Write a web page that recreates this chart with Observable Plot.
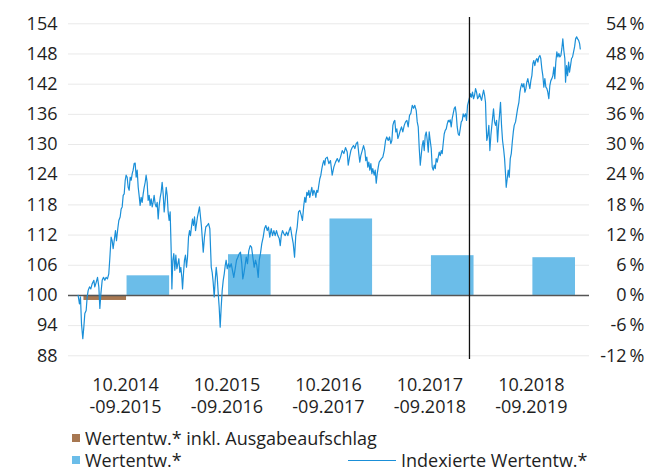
<!DOCTYPE html>
<html><head><meta charset="utf-8">
<script src="https://cdn.jsdelivr.net/npm/d3@7"></script>
<script src="https://cdn.jsdelivr.net/npm/@observablehq/plot@0.6"></script>
<style>
html,body{margin:0;padding:0;background:#fff;}
#wrap{position:relative;width:657px;height:472px;font-family:"Open Sans",sans-serif;color:#1e1e1e;}
#wrap svg{position:absolute;left:0;top:0;}
.lg{position:absolute;font-size:18px;line-height:16px;height:16px;white-space:nowrap;}
.sw{position:absolute;width:8px;height:8px;}
.ln{position:absolute;height:0;border-top:1.3px solid #1a8fd8;}
</style></head><body>
<div id="wrap"></div>
<script>
// Zeiträume (Kategorien)
const periods = ["10.2014\n-09.2015", "10.2015\n-09.2016", "10.2016\n-09.2017", "10.2017\n-09.2018", "10.2018\n-09.2019"];
// Wertentwicklung inkl. Ausgabeaufschlag (%) – nur erster Zeitraum
const wertInkl = [-1.0, null, null, null, null];
// Wertentwicklung (%)
const wert = [3.9, 8.1, 15.2, 7.9, 7.5];
// Achsenticks (Index links, % rechts = Index - 100)
const yTicks = [88, 94, 100, 106, 112, 118, 124, 130, 136, 142, 148, 154];
// Markierung (Jahre seit 10.2014)
const markerT = 3.89;
// Indexierte Wertentwicklung: [Jahre seit 10.2014, Indexwert]
const indexSeries = [
[0.033,100.0],[0.046,98.3],[0.056,99.7],[0.066,94.4],[0.079,91.4],[0.089,93.7],[0.099,96.4],[0.112,97.0],[0.122,99.7],[0.132,101.0],[0.145,101.7],[0.158,101.3],[0.171,102.3],[0.188,103.0],[0.197,101.7],[0.211,102.6],[0.224,103.6],[0.237,101.7],[0.247,97.4],[0.257,100.3],[0.270,103.0],[0.283,103.6],[0.296,103.0],[0.309,103.6],[0.322,103.3],[0.335,104.3],[0.345,107.3],[0.358,111.6],[0.368,110.9],[0.378,109.3],[0.391,111.3],[0.401,112.9],[0.411,110.9],[0.424,113.3],[0.434,114.9],[0.447,115.6],[0.457,117.2],[0.467,117.6],[0.477,119.9],[0.487,120.2],[0.497,122.9],[0.506,123.9],[0.516,123.5],[0.526,121.5],[0.536,120.9],[0.546,123.5],[0.556,122.9],[0.566,124.2],[0.575,124.9],[0.585,126.2],[0.595,126.3],[0.605,123.5],[0.615,124.9],[0.625,121.5],[0.634,119.9],[0.644,117.9],[0.654,119.5],[0.664,118.5],[0.674,120.2],[0.684,121.5],[0.694,122.5],[0.703,123.9],[0.713,122.5],[0.723,118.9],[0.733,119.9],[0.743,117.9],[0.753,119.2],[0.763,117.6],[0.772,118.5],[0.782,119.9],[0.792,118.2],[0.802,117.6],[0.812,118.5],[0.822,115.2],[0.832,117.9],[0.842,119.5],[0.851,120.5],[0.861,122.5],[0.871,120.2],[0.881,116.6],[0.891,118.9],[0.901,121.5],[0.911,119.9],[0.920,116.6],[0.930,114.9],[0.940,116.6],[0.950,108.9],[0.957,101.3],[0.966,107.0],[0.976,108.3],[0.986,105.0],[0.996,108.0],[1.006,105.3],[1.016,106.3],[1.026,107.3],[1.035,104.6],[1.045,105.6],[1.055,103.6],[1.062,101.3],[1.071,104.3],[1.081,107.0],[1.091,108.0],[1.101,105.6],[1.111,107.6],[1.121,111.6],[1.131,112.9],[1.140,111.9],[1.150,113.6],[1.160,115.2],[1.170,113.9],[1.180,115.6],[1.190,112.9],[1.200,114.3],[1.209,115.6],[1.219,116.6],[1.229,117.6],
[1.249,113.6],[1.266,108.6],[1.278,111.6],[1.291,113.6],[1.305,113.9],[1.318,114.3],[1.331,113.3],[1.345,105.6],[1.354,104.6],[1.364,102.6],[1.374,99.7],[1.384,103.0],[1.394,105.6],[1.404,103.6],[1.414,100.3],[1.423,97.7],[1.433,93.7],[1.443,97.7],[1.453,101.0],[1.463,103.0],[1.473,104.3],[1.483,106.0],[1.492,107.0],[1.502,105.3],[1.515,106.3],[1.528,105.6],[1.542,106.3],[1.554,105.0],[1.567,103.6],[1.581,105.3],[1.594,107.0],[1.607,107.6],[1.621,108.3],[1.633,108.6],[1.646,106.3],[1.656,103.3],[1.666,104.3],[1.676,105.6],[1.690,107.6],[1.702,106.3],[1.715,108.9],[1.729,109.9],[1.742,109.6],[1.755,107.6],[1.768,105.6],[1.781,107.0],[1.794,106.0],[1.808,103.6],[1.818,107.0],[1.830,108.3],[1.843,110.3],[1.857,111.6],[1.870,113.3],[1.883,113.9],[1.897,112.9],[1.909,113.6],[1.922,111.6],[1.936,113.3],[1.949,111.9],[1.962,112.9],[1.975,111.9],[1.988,112.9],[2.001,111.9],[2.015,111.3],[2.025,109.9],[2.035,111.9],[2.047,112.9],[2.060,112.3],[2.074,111.9],[2.087,112.6],[2.100,111.9],[2.113,112.9],[2.126,113.6],[2.139,111.9],[2.153,110.3],[2.166,107.6],[2.178,111.9],[2.192,113.6],[2.205,116.6],[2.218,116.9],[2.232,115.9],[2.244,114.9],[2.257,117.9],[2.267,119.5],[2.277,118.5],[2.287,120.5],[2.297,119.9],[2.307,120.9],[2.316,119.5],[2.326,120.5],[2.336,121.5],[2.346,119.9],[2.356,120.9],[2.366,120.5],[2.376,119.5],[2.385,120.9],[2.395,120.5],[2.405,121.9],[2.415,123.2],[2.425,123.9],[2.435,125.2],[2.445,126.2],[2.454,126.8],[2.464,125.9],
[2.471,127.2],[2.488,127.5],[2.504,126.2],[2.520,126.8],[2.537,123.9],[2.553,125.5],[2.570,126.5],[2.587,127.2],[2.602,126.5],[2.619,127.5],[2.636,128.8],[2.652,128.2],[2.668,129.4],[2.685,128.5],[2.695,125.9],[2.708,127.5],[2.721,128.8],[2.734,129.4],[2.747,129.8],[2.760,129.2],[2.774,130.2],[2.787,130.5],[2.799,128.2],[2.809,126.5],[2.819,127.8],[2.833,128.8],[2.846,129.8],[2.859,128.8],[2.868,126.8],[2.878,127.5],[2.888,125.5],[2.898,126.5],[2.908,124.9],[2.918,126.2],[2.928,124.2],[2.937,125.2],[2.951,123.9],[2.961,124.9],[2.971,122.3],[2.981,124.2],[2.991,125.5],[3.000,126.5],[3.010,126.8],[3.023,127.2],[3.036,127.5],[3.050,128.8],[3.063,130.8],[3.075,131.5],[3.089,130.8],[3.102,131.5],[3.115,130.2],[3.125,130.8],[3.135,133.8],[3.144,134.5],[3.154,134.8],[3.164,132.5],[3.174,133.1],[3.184,131.2],[3.194,131.8],[3.208,132.8],[3.220,133.5],[3.233,132.5],[3.247,133.8],[3.260,134.5],[3.273,134.8],[3.286,133.5],[3.299,135.8],[3.312,136.2],[3.326,137.8],[3.339,137.2],[3.351,137.8],[3.365,136.8],[3.375,134.5],[3.385,133.5],[3.395,129.2],[3.405,125.9],[3.414,127.8],[3.424,129.8],[3.434,130.8],[3.444,128.8],[3.454,131.8],[3.464,132.5],[3.474,130.8],[3.484,128.5],[3.493,132.5],[3.503,130.8],[3.513,129.2],[3.523,125.5],[3.533,124.9],[3.543,125.9],[3.553,125.2],[3.562,127.2],[3.572,126.5],[3.582,127.5],[3.592,128.5],[3.602,127.8],[3.612,128.8],[3.621,128.2],[3.631,130.2],[3.641,132.1],[3.651,132.8],[3.661,133.1],[3.671,134.1],[3.681,134.8],[3.690,134.5],[3.700,134.9],[3.710,133.5],[3.720,135.2],[3.730,136.2],[3.740,137.2],[3.750,137.5],[3.759,136.2],[3.769,133.5],[3.779,132.1],[3.789,131.8],[3.799,133.1],[3.809,134.5],[3.819,134.8],[3.828,136.1],[3.838,135.5],
[3.851,136.1],[3.861,134.8],[3.871,137.8],[3.884,138.8],[3.900,140.1],[3.910,139.4],[3.920,140.4],[3.930,139.1],[3.940,139.8],[3.950,141.1],[3.960,140.4],[3.970,139.1],[3.980,139.4],[3.989,140.1],[3.999,139.4],[4.009,138.8],[4.019,139.8],[4.029,140.8],[4.039,139.8],[4.048,138.4],[4.055,133.8],[4.061,130.8],[4.071,131.8],[4.081,133.8],[4.091,128.8],[4.101,131.8],[4.114,134.5],[4.127,137.1],[4.137,134.5],[4.147,133.8],[4.157,134.8],[4.167,130.5],[4.177,133.8],[4.186,135.8],[4.196,138.4],[4.206,133.8],[4.216,130.8],[4.226,129.2],[4.236,127.2],[4.246,123.9],[4.252,121.5],[4.262,123.2],[4.272,124.9],[4.282,123.5],[4.292,127.2],[4.302,128.2],[4.312,130.5],[4.322,132.5],[4.331,133.8],[4.344,134.5],[4.354,135.8],[4.364,137.1],[4.377,138.4],[4.387,140.4],[4.396,141.4],[4.406,142.1],[4.416,141.4],[4.426,142.1],[4.436,140.4],[4.446,141.1],[4.455,142.4],[4.465,143.1],[4.475,142.1],[4.485,141.1],[4.495,142.7],[4.505,143.7],[4.515,146.1],[4.524,146.7],[4.534,145.7],[4.544,146.7],[4.554,147.1],[4.564,146.4],[4.574,147.4],[4.584,147.7],[4.593,147.1],[4.603,145.1],[4.613,143.7],[4.623,141.4],[4.633,143.1],[4.643,141.4],[4.653,141.1],[4.662,140.4],[4.672,139.1],[4.682,141.7],[4.692,142.7],[4.702,143.1],[4.712,143.7],[4.722,145.4],[4.731,143.1],[4.741,146.4],[4.751,148.4],[4.761,147.4],[4.771,148.1],[4.781,147.4],[4.791,147.7],[4.800,149.0],[4.810,151.0],[4.820,148.7],[4.830,147.1],[4.837,142.4],[4.847,145.7],[4.857,143.7],[4.867,146.4],[4.876,144.4],[4.886,145.7],[4.896,147.1],[4.906,147.4],[4.916,148.4],[4.926,149.4],[4.936,151.0],[4.946,151.4],[4.956,151.0],[4.966,150.7],[4.976,150.0],[4.982,149.0]
];

// Balken-Tabellen (Index-Skala: Basis 100)
const brownBars = wertInkl.map((v, i) => ({i, v})).filter(d => d.v != null);
const blueBars = wert.map((v, i) => ({i, v}));
const tickPos = periods.map((p, i) => i + 0.5);

const BLUE_BAR = "#6bbde9", BROWN = "#a77751", LINE = "#1a8fd8";

const chart = Plot.plot({
  width: 657, height: 420,
  marginLeft: 68, marginRight: 68, marginTop: 23.3, marginBottom: 64.7,
  style: {fontFamily: '"Open Sans", sans-serif', fontSize: "18px", color: "#1e1e1e", background: "transparent", overflow: "visible"},
  x: {type: "linear", domain: [-0.062, 5.073], axis: null},
  y: {domain: [88, 154], axis: null},
  marks: [
    Plot.gridY(yTicks, {stroke: "#e9e9e9", strokeOpacity: 1, strokeWidth: 1}),
    Plot.rectY(blueBars, {x1: d => d.i + 0.515, x2: d => d.i + 0.935, y1: 100, y2: d => 100 + d.v, fill: BLUE_BAR}),
    Plot.rectY(brownBars, {x1: d => d.i + 0.09, x2: d => d.i + 0.51, y1: 100, y2: d => 100 + d.v, fill: BROWN}),
    Plot.ruleY([100], {stroke: "#555", strokeWidth: 1.5}),
    Plot.line(indexSeries, {x: d => d[0], y: d => d[1], stroke: LINE, strokeWidth: 1.2}),
    Plot.ruleX([markerT], {y1: 87.25, y2: 155.25, stroke: "#111", strokeWidth: 1.3, clip: false}),
    Plot.axisY(yTicks, {anchor: "left", tickSize: 0, tickPadding: 11, fill: "#1e1e1e"}),
    Plot.axisY(yTicks, {anchor: "right", tickSize: 0, tickPadding: 55, textAnchor: "end", fill: "#1e1e1e", tickFormat: d => `${d - 100}\u2009%`}),
    Plot.axisX(tickPos, {anchor: "bottom", tickSize: 0, tickPadding: 20, lineHeight: 1.22, fill: "#1e1e1e", tickFormat: d => periods[Math.floor(d)]})
  ]
});

const wrap = document.getElementById("wrap");
wrap.appendChild(chart);

// Legende
const legendHTML = `
  <div class="sw" style="left:72px;top:434px;background:${BROWN}"></div>
  <div class="lg" style="left:85px;top:430px">Wertentw.* inkl. Ausgabeaufschlag</div>
  <div class="sw" style="left:72px;top:456px;background:${BLUE_BAR}"></div>
  <div class="lg" style="left:85px;top:452px">Wertentw.*</div>
  <div class="ln" style="left:348px;top:460px;width:48px"></div>
  <div class="lg" style="left:401px;top:452px">Indexierte Wertentw.*</div>`;
wrap.insertAdjacentHTML("beforeend", legendHTML);
</script>
</body></html>
